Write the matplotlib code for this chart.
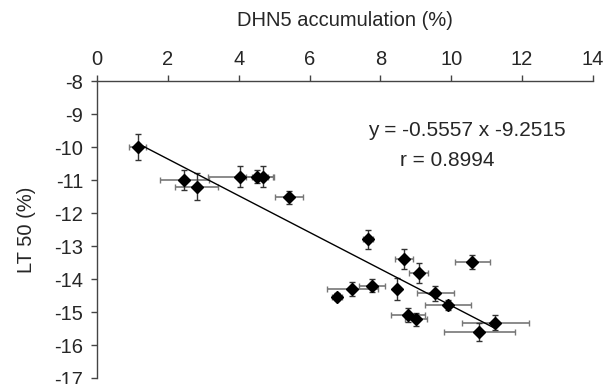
import numpy as np
import matplotlib.pyplot as plt

plt.rcParams['font.family'] = ['Liberation Sans', 'DejaVu Sans']
plt.rcParams['axes.unicode_minus'] = False

# Datos
dhn5 = [1.15, 2.47, 2.82, 4.04, 4.51, 4.68, 5.42, 7.64, 8.66, 10.59, 9.08,
        7.76, 7.20, 6.77, 8.48, 9.55, 9.90, 8.78, 9.01, 11.24, 10.79]
lt50 = [-10.0, -11.0, -11.2, -10.9, -10.9, -10.9, -11.52, -12.8, -13.4, -13.49, -13.81,
        -14.2, -14.3, -14.53, -14.3, -14.43, -14.8, -15.09, -15.22, -15.32, -15.6]
dhn5_err = [0.24, 0.68, 0.61, 0.92, 0.31, 0.31, 0.4, 0.14, 0.26, 0.49, 0.26,
            0.37, 0.72, 0.14, 0.05, 0.52, 0.65, 0.49, 0.31, 0.94, 1.0]
lt50_err = [0.4, 0.29, 0.4, 0.31, 0.19, 0.31, 0.2, 0.29, 0.31, 0.21, 0.3,
            0.19, 0.22, 0.1, 0.33, 0.23, 0.15, 0.21, 0.2, 0.23, 0.28]

slope = -0.5557
intercept = -9.2515
r = 0.8994

fig = plt.figure(figsize=(6.08, 3.84), dpi=100)
ax = fig.add_axes([0.1595, 0.0156, 0.8158, 0.7734])

txt = '#262626'

# barras de error
ax.errorbar(dhn5, lt50, xerr=dhn5_err, fmt='none', ecolor='#777777',
            elinewidth=1.2, capsize=2.5, capthick=1)
ax.errorbar(dhn5, lt50, yerr=lt50_err, fmt='none', ecolor='#333333',
            elinewidth=1.0, capsize=2.5, capthick=1)

# recta de regresion
xl = np.array([min(dhn5), max(dhn5)])
ax.plot(xl, slope * xl + intercept, color='black', linewidth=1.0)

ax.plot(dhn5, lt50, 'D', color='black', markersize=6.5)

ax.text(10.45, -9.5, f'y = {slope} x {intercept}', fontsize=15,
        color=txt, ha='center', va='center')
ax.text(9.9, -10.4, f'r = {r}', fontsize=15, color=txt,
        ha='center', va='center')

ax.set_xlim(0, 14)
ax.set_ylim(-17, -8)
ax.set_xticks(np.arange(0, 15, 2))
ax.set_yticks(np.arange(-17, -7, 1))

ax.xaxis.tick_top()
ax.xaxis.set_label_position('top')
ax.spines['right'].set_visible(False)
ax.spines['bottom'].set_visible(False)
for s in ['top', 'left']:
    ax.spines[s].set_color('#444444')
    ax.spines[s].set_linewidth(1.0)
ax.tick_params(direction='out', length=4, width=1, colors='#444444',
               labelcolor=txt, labelsize=14.5)
ax.tick_params(axis='x', pad=5)
ax.tick_params(axis='y', pad=6)

ax.set_xlabel('DHN5 accumulation (%)', fontsize=14.5, color=txt, labelpad=17)
ax.set_ylabel('LT 50 (%)', fontsize=14.5, color=txt, labelpad=13)

fig.savefig('out.png', dpi=100)
